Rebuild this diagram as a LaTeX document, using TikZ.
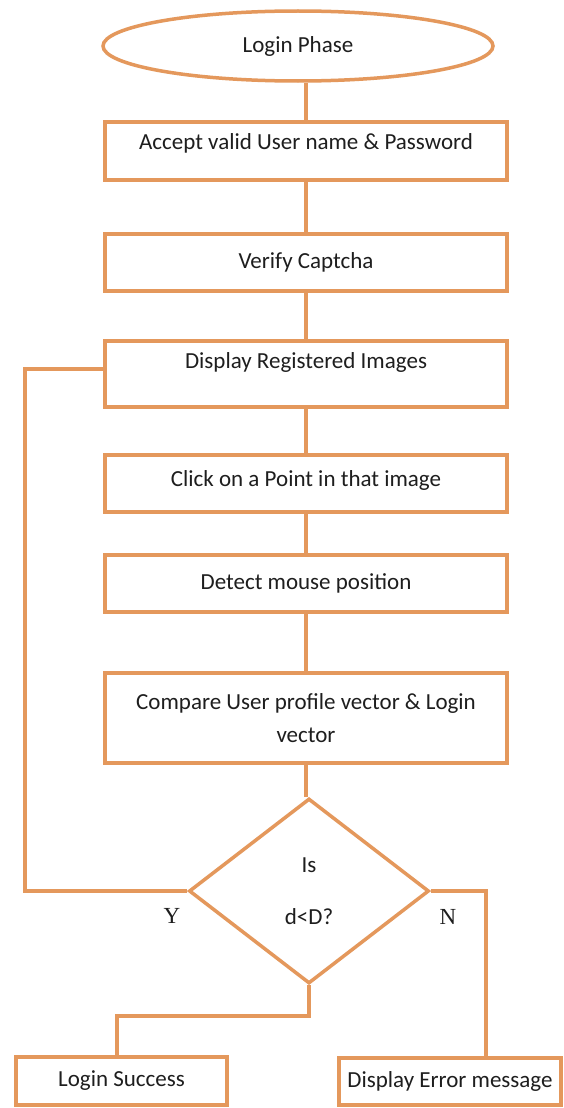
\documentclass[tikz,border=0pt]{standalone}
\usepackage{fontspec}
\setmainfont{Carlito}
\newfontfamily\timesf{Liberation Serif}
\usetikzlibrary{shapes.geometric}
\definecolor{flowor}{RGB}{228,152,92}
\definecolor{txtc}{RGB}{30,30,30}
\begin{document}
\begin{tikzpicture}[x=1pt,y=-1pt,
  every node/.style={text=txtc, font=\fontsize{23}{27}\selectfont},
  flowline/.style={draw=flowor, line width=3.5pt},
  procbox/.style={rectangle, draw=flowor, line width=3.5pt, fill=white,
    minimum width=402pt, text height=16pt, text depth=5pt, inner sep=2pt},
  endbox/.style={procbox},
  termnode/.style={ellipse, draw=flowor, line width=3.5pt, fill=white,
    minimum width=390pt, minimum height=70pt, inner sep=0pt},
  decnode/.style={diamond, draw=flowor, line width=3.5pt, fill=white,
    minimum width=240pt, minimum height=185pt, inner sep=0pt, align=center,
    font=\fontsize{23}{52}\selectfont},
  yn/.style={font=\timesf\fontsize{23}{26}\selectfont}
]
\fill[white] (0,0) rectangle (564,1108);
\useasboundingbox (0,0) rectangle (564,1108);

\node[termnode] (start) at (298,46) {Login Phase};
\node[procbox, minimum height=58pt, text depth=19pt] (b1) at (306,151) {Accept valid User name \& Password};
\node[procbox, minimum height=57pt] (b2) at (306,262.5) {Verify Captcha};
\node[procbox, minimum height=66pt, text depth=27pt] (b3) at (306,374) {Display Registered Images};
\node[procbox, minimum height=57pt, text depth=10pt] (b4) at (306,483.5) {Click on a Point in that image};
\node[procbox, minimum height=57pt] (b5) at (306,583.5) {Detect mouse position};
\node[procbox, minimum height=90pt, text height=, text depth=, align=center, font=\fontsize{23}{33}\selectfont] (b6) at (306,718) {Compare User profile vector \& Login\\vector};
\node[decnode] (dec) at (309,891) {Is\\d<D?};
\node[endbox, minimum width=211pt, minimum height=48pt] (ls) at (121.5,1081) {Login Success};
\node[endbox, minimum width=222pt, minimum height=47pt] (de) at (450,1081.5) {Display Error message};

\node[yn] (ylab) at (172,916) {Y};
\node[yn] (nlab) at (448,917) {N};

\coordinate (lp) at (25,891);
\coordinate (nc) at (486,891);
\coordinate (yc) at (117,1016);

\draw[flowline] (b1.north) -- (b1.north |- start.south);
\draw[flowline] (b1) -- (b2);
\draw[flowline] (b2) -- (b3);
\draw[flowline] (b3) -- (b4);
\draw[flowline] (b4) -- (b5);
\draw[flowline] (b5) -- (b6);
\draw[flowline] (b6.south) -- (b6.south |- dec.north);
\draw[flowline] (dec.west) -- (lp) |- ([yshift=5pt]b3.west);
\draw[flowline] (dec.east) -- (nc) -- (nc |- de.north);
\draw[flowline] (dec.south) |- (yc) -- (yc |- ls.north);
\end{tikzpicture}
\end{document}
